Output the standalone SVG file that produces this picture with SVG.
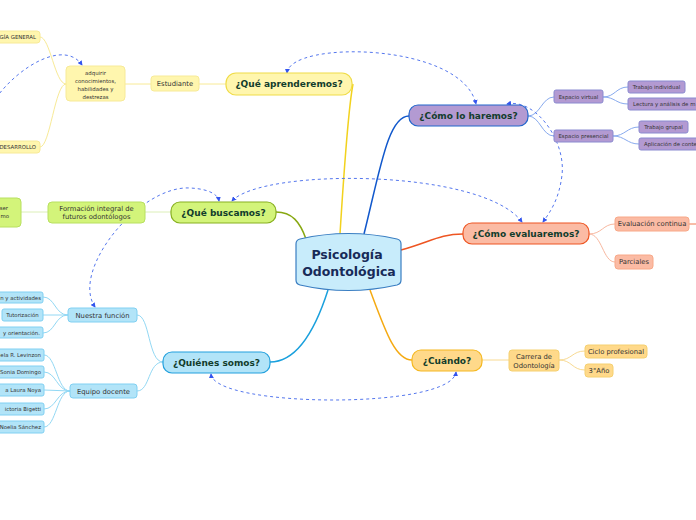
<svg xmlns="http://www.w3.org/2000/svg" width="696" height="520" viewBox="0 0 696 520">
<style>
text{font-family:"DejaVu Sans","Verdana",sans-serif;}
.m{font-weight:bold;font-size:9px;fill:#123d2c;text-anchor:middle;}
.c{font-size:6.8px;fill:#333;text-anchor:middle;}
.l{font-size:5.4px;fill:#333;text-anchor:middle;}
.le{font-size:5.4px;fill:#333;text-anchor:end;}
.ls{font-size:5.4px;fill:#333;text-anchor:start;}
.y{fill:#fff6ae;stroke:#f0dc48;stroke-width:1.2;}
.yc{fill:#fff6ae;stroke:#f7ea98;stroke-width:1;}
.p{fill:#b39ad2;stroke:#2266cc;stroke-width:1.2;}
.pc{fill:#b39ad2;stroke:#8a8ad0;stroke-width:1;}
.g{fill:#d3f47a;stroke:#88b020;stroke-width:1.2;}
.gc{fill:#d3f47a;stroke:#b8e060;stroke-width:1;}
.o{fill:#fbbba4;stroke:#ee5522;stroke-width:1.2;}
.oc{fill:#fbbba4;stroke:#f8a888;stroke-width:1;}
.b{fill:#b2e4f8;stroke:#22a0dd;stroke-width:1.2;}
.bc{fill:#b2e4f8;stroke:#80d0f2;stroke-width:1;}
.a{fill:#ffd98a;stroke:#f5b820;stroke-width:1.2;}
.ac{fill:#ffd98a;stroke:#f5d070;stroke-width:1;}
.ln{fill:none;stroke-width:1;}
.mn{fill:none;stroke-width:1.5;}
.rel{fill:none;stroke:#5577ee;stroke-width:1;stroke-dasharray:3,3;marker-start:url(#ar);marker-end:url(#ar);}
.rel1{fill:none;stroke:#5577ee;stroke-width:1;stroke-dasharray:3,3;marker-end:url(#ar);}
</style>
<defs>
<marker id="ar" viewBox="0 0 6 6" refX="5" refY="3" markerWidth="5" markerHeight="5" orient="auto-start-reverse" markerUnits="userSpaceOnUse">
<path d="M0,0 L6,3 L0,6 Z" fill="#3355ee"/>
</marker>
</defs>
<rect width="696" height="520" fill="#ffffff"/>
<g id="connectors">
<path class="mn" stroke="#f2d21e" d="M340,234 C344,170 348,110 353,84"/>
<path class="mn" stroke="#1158cc" d="M364,234 C380,170 388,116 409,116"/>
<path class="mn" stroke="#88a812" d="M306,239 C300,222 292,212 276,212"/>
<path class="mn" stroke="#ee5522" d="M401,250 C430,242 440,234 463,234"/>
<path class="mn" stroke="#1aa0dd" d="M328,290 C312,340 292,362 270,362"/>
<path class="mn" stroke="#f5aa12" d="M370,290 C385,330 395,360 412,360"/>
<g stroke="#f8ea96">
<path class="ln" d="M226,84 L199,84"/>
<path class="ln" d="M151,84 L125,84"/>
<path class="ln" d="M66,84 C55,84 50,37 40,37"/>
<path class="ln" d="M66,84 C55,84 50,147 40,147"/>
</g>
<g stroke="#dcefb8">
<path class="ln" d="M171,212 L145,212"/>
<path class="ln" d="M48,212 L21,212"/>
</g>
<g stroke="#88aaee">
<path class="ln" d="M528,116 C540,116 542,97 554,97"/>
<path class="ln" d="M528,116 C540,116 542,136 554,136"/>
<path class="ln" d="M603,97 C615,97 616,87 628,87"/>
<path class="ln" d="M603,97 C615,97 616,104 628,104"/>
<path class="ln" d="M613,136 C625,136 627,127 639,127"/>
<path class="ln" d="M613,136 C625,136 627,144 639,144"/>
</g>
<g stroke="#f8b8a0">
<path class="ln" d="M589,234 C602,234 603,224 615,224"/>
<path class="ln" d="M589,234 C602,234 603,262 615,262"/>
</g>
<path class="ln" stroke="#f07a50" d="M689,224 L700,224"/>
<g stroke="#92d8f4">
<path class="ln" d="M163,362 C148,362 150,315 137,315"/>
<path class="ln" d="M163,362 C148,362 150,391 137,391"/>
<path class="ln" d="M68,315 C55,315 55,297 43,297"/>
<path class="ln" d="M68,315 L43,315"/>
<path class="ln" d="M68,315 C55,315 55,333 43,333"/>
<path class="ln" d="M70,391 C57,391 56,355 44,355"/>
<path class="ln" d="M70,391 C57,391 56,372 44,372"/>
<path class="ln" d="M70,391 L44,390"/>
<path class="ln" d="M70,391 C57,391 56,409 44,409"/>
<path class="ln" d="M70,391 C57,391 56,427 44,427"/>
</g>
<g stroke="#f8da92">
<path class="ln" d="M482,360 L509,360"/>
<path class="ln" d="M559,360 C572,360 572,351 585,351"/>
<path class="ln" d="M559,360 C572,360 572,370 585,370"/>
</g>
<path class="rel1" d="M-4,98 C20,65 65,40 82,65"/>
<path class="rel" d="M287,73 C290,40 462,42 476,104"/>
<path class="rel" d="M95,307 C70,270 140,185 190,188 C210,189 218,195 219,201"/>
<path class="rel" d="M232,201 C262,168 482,168 522,222"/>
<path class="rel" d="M507,104 C535,98 566,140 562,175 C559,200 550,212 543,222"/>
<path class="rel" d="M211,374 C214,408 452,410 456,372"/>
</g>
<g id="central">
<path d="M296,244 Q296,240 300,239 Q348,228 397,239 Q401,240 401,244 L401,280 Q401,284 397,285 Q348,296 300,285 Q296,284 296,280 Z" fill="#c8ecfb" stroke="#3a7ec2" stroke-width="1.2"/>
<text x="347" y="259" font-size="12.5" font-weight="bold" fill="#172a58" text-anchor="middle">Psicología</text>
<text x="349" y="275.5" font-size="12.5" font-weight="bold" fill="#172a58" text-anchor="middle">Odontológica</text>
</g>
<g id="n-aprenderemos"><rect class="y" x="226" y="73" width="126" height="22" rx="10"/><text class="m" x="289" y="87.3">¿Qué aprenderemos?</text></g>
<g id="n-haremos"><rect class="p" x="409" y="105" width="119" height="21" rx="9"/><text class="m" x="468.5" y="118.8">¿Cómo lo haremos?</text></g>
<g id="n-buscamos"><rect class="g" x="171" y="202" width="105" height="21" rx="9"/><text class="m" x="223.5" y="215.8">¿Qué buscamos?</text></g>
<g id="n-evaluaremos"><rect class="o" x="463" y="223" width="126" height="21" rx="9"/><text class="m" x="526" y="236.8">¿Cómo evaluaremos?</text></g>
<g id="n-quienes"><rect class="b" x="163" y="352" width="107" height="21" rx="9"/><text class="m" x="216.5" y="365.8">¿Quiénes somos?</text></g>
<g id="n-cuando"><rect class="a" x="412" y="350" width="70" height="21" rx="9"/><text class="m" x="447" y="363.8">¿Cuándo?</text></g>
<g id="n-estudiante"><rect class="yc" x="151" y="76" width="48" height="15" rx="3"/><text class="c" x="175" y="86">Estudiante</text></g>
<g id="n-adquirir"><rect class="yc" x="66" y="66" width="59" height="35" rx="4"/>
<text class="l" x="95.5" y="74.5" font-size="5.8">adquirir</text>
<text class="l" x="95.5" y="82.5" font-size="5.8">conocimientos,</text>
<text class="l" x="95.5" y="90.5" font-size="5.8">habilidades y</text>
<text class="l" x="95.5" y="98.5" font-size="5.8">destrezas</text></g>
<g id="n-general"><rect class="yc" x="-10" y="31" width="50" height="12" rx="3"/><text class="le" x="36" y="39">GÍA GENERAL</text></g>
<g id="n-desarrollo"><rect class="yc" x="-10" y="141" width="50" height="12" rx="3"/><text class="le" x="36" y="149">DESARROLLO</text></g>
<g id="n-formacion"><rect class="gc" x="48" y="202" width="97" height="21" rx="4"/>
<text class="c" x="96.5" y="211" font-size="6.5">Formación integral de</text>
<text class="c" x="96.5" y="219" font-size="6.5">futuros odontólogos</text></g>
<g id="n-ser"><rect class="gc" x="-10" y="198" width="31" height="29" rx="4"/>
<text class="le" x="8" y="210">ser</text><text class="le" x="9" y="218">mo</text></g>
<g id="n-virtual"><rect class="pc" x="554" y="90" width="49" height="13" rx="2"/><text class="l" x="578.5" y="98.5">Espacio virtual</text></g>
<g id="n-presencial"><rect class="pc" x="554" y="130" width="59" height="12" rx="2"/><text class="l" x="583.5" y="138">Espacio presencial</text></g>
<g id="n-individual"><rect class="pc" x="628" y="81" width="57" height="12" rx="2"/><text class="l" x="656.5" y="89">Trabajo individual</text></g>
<g id="n-lectura"><rect class="pc" x="628" y="98" width="75" height="12" rx="2"/><text class="ls" x="633" y="106">Lectura y análisis de m</text></g>
<g id="n-grupal"><rect class="pc" x="639" y="121" width="49" height="12" rx="2"/><text class="l" x="663.5" y="129">Trabajo grupal</text></g>
<g id="n-aplicacion"><rect class="pc" x="639" y="138" width="65" height="12" rx="2"/><text class="ls" x="644" y="146">Aplicación de conte</text></g>
<g id="n-continua"><rect class="oc" x="615" y="217" width="74" height="14" rx="3"/><text class="c" x="652" y="226.3" font-size="6.5">Evaluación continua</text></g>
<g id="n-parciales"><rect class="oc" x="615" y="255" width="38" height="14" rx="3"/><text class="c" x="634" y="264.3" font-size="6.5">Parciales</text></g>
<g id="n-funcion"><rect class="bc" x="68" y="308" width="69" height="14" rx="3"/><text class="c" x="102.5" y="317.5" font-size="7">Nuestra función</text></g>
<g id="n-equipo"><rect class="bc" x="70" y="384" width="67" height="14" rx="3"/><text class="c" x="103.5" y="393.5" font-size="7">Equipo docente</text></g>
<g id="n-actividades"><rect class="bc" x="-10" y="292" width="53" height="11" rx="2"/><text class="le" x="41" y="299.5">n y actividades</text></g>
<g id="n-tutorizacion"><rect class="bc" x="2" y="309" width="41" height="12" rx="2"/><text class="l" x="22.5" y="317">Tutorización</text></g>
<g id="n-orientacion"><rect class="bc" x="-10" y="327" width="53" height="11" rx="2"/><text class="le" x="40" y="334.5">y orientación.</text></g>
<g id="n-levinzon"><rect class="bc" x="-10" y="349" width="54" height="12" rx="2"/><text class="le" x="41" y="357">ela R. Levinzon</text></g>
<g id="n-domingo"><rect class="bc" x="-10" y="366" width="54" height="12" rx="2"/><text class="le" x="41" y="374">Sonia Domingo</text></g>
<g id="n-noya"><rect class="bc" x="-10" y="384" width="54" height="12" rx="2"/><text class="le" x="41" y="392">a Laura Noya</text></g>
<g id="n-bigetti"><rect class="bc" x="-10" y="403" width="54" height="12" rx="2"/><text class="le" x="41" y="411">ictoria Bigetti</text></g>
<g id="n-sanchez"><rect class="bc" x="-10" y="421" width="54" height="12" rx="2"/><text class="le" x="41" y="429">Noelia Sánchez</text></g>
<g id="n-carrera"><rect class="ac" x="509" y="350" width="50" height="21" rx="3"/>
<text class="c" x="534" y="359" font-size="6.5">Carrera de</text>
<text class="c" x="534" y="367.5" font-size="6.5">Odontología</text></g>
<g id="n-ciclo"><rect class="ac" x="585" y="345" width="62" height="13" rx="3"/><text class="c" x="616" y="354" font-size="6.5">Ciclo profesional</text></g>
<g id="n-anio"><rect class="ac" x="585" y="364" width="28" height="13" rx="3"/><text class="c" x="599" y="373" font-size="6.5">3°Año</text></g>
</svg>
